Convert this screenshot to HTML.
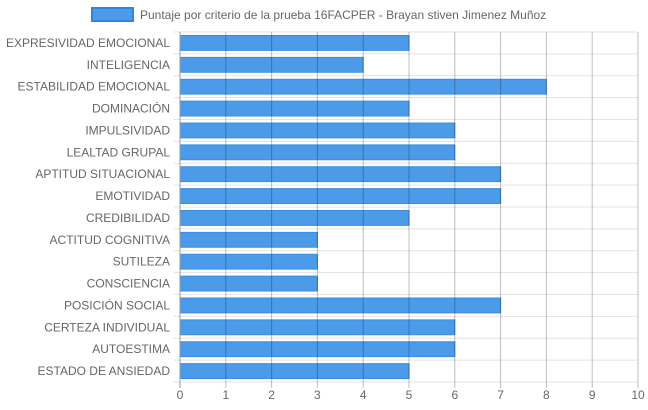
<!DOCTYPE html>
<html><head><meta charset="utf-8"><style>
body{margin:0;background:#fff;}
svg{display:block;font-family:"Liberation Sans",sans-serif;}
</style></head><body>
<svg id="chart" width="648" height="410" xmlns="http://www.w3.org/2000/svg">
<g>
<rect x="92" y="8" width="41" height="13" fill="#4b9be9" stroke="#2f86dc" stroke-width="2"/>
<text x="140" y="19" font-size="12" fill="#666">Puntaje por criterio de la prueba 16FACPER - Brayan stiven Jimenez Muñoz</text>
</g>
<g id="grid"></g><g id="bars"></g><g id="vgrid"></g><g id="labels"></g>
</svg>
<script>
const categories=["EXPRESIVIDAD EMOCIONAL","INTELIGENCIA","ESTABILIDAD EMOCIONAL","DOMINACIÓN","IMPULSIVIDAD","LEALTAD GRUPAL","APTITUD SITUACIONAL","EMOTIVIDAD","CREDIBILIDAD","ACTITUD COGNITIVA","SUTILEZA","CONSCIENCIA","POSICIÓN SOCIAL","CERTEZA INDIVIDUAL","AUTOESTIMA","ESTADO DE ANSIEDAD"];
const values=[5,4,8,5,6,6,7,7,5,3,3,3,7,6,6,5];
const ticks=[0,1,2,3,4,5,6,7,8,9,10];
const NS="http://www.w3.org/2000/svg";
const L=180,R=638,T=32,B=382,xMax=10;
const x=v=>L+(R-L)*v/xMax;
const band=(B-T)/categories.length;
const y=i=>T+band*i;
function mk(tag,attrs,parent){const e=document.createElementNS(NS,tag);for(const k in attrs)e.setAttribute(k,attrs[k]);document.getElementById(parent).appendChild(e);return e;}
for(let i=0;i<=categories.length;i++){
 const l=mk('line',{x1:L-6,x2:R,y1:y(i),y2:y(i),stroke:'#e3e3e3'},'grid');
 
 
}
categories.forEach((c,i)=>{
 const r=mk('rect',{x:x(0),y:y(i)+3.5,width:x(values[i])-x(0),height:band-7,fill:'#4b9be9',stroke:'#3a8fe2','stroke-width':1},'bars');
 
 
 const t=mk('text',{x:170,y:y(i)+band/2+4,'font-size':12,fill:'#666','text-anchor':'end'},'labels');
 t.textContent=c;
 
 
});
ticks.forEach(v=>{
 const l=mk('line',{x1:x(v),x2:x(v),y1:T,y2:B+6,stroke:v===0?'#999':'rgba(0,0,0,0.25)'},'vgrid');
 
 
 const t=mk('text',{x:x(v),y:B+17,'font-size':12,fill:'#666','text-anchor':'middle'},'labels');
 t.textContent=v;
 
 
});
</script>
</body></html>
